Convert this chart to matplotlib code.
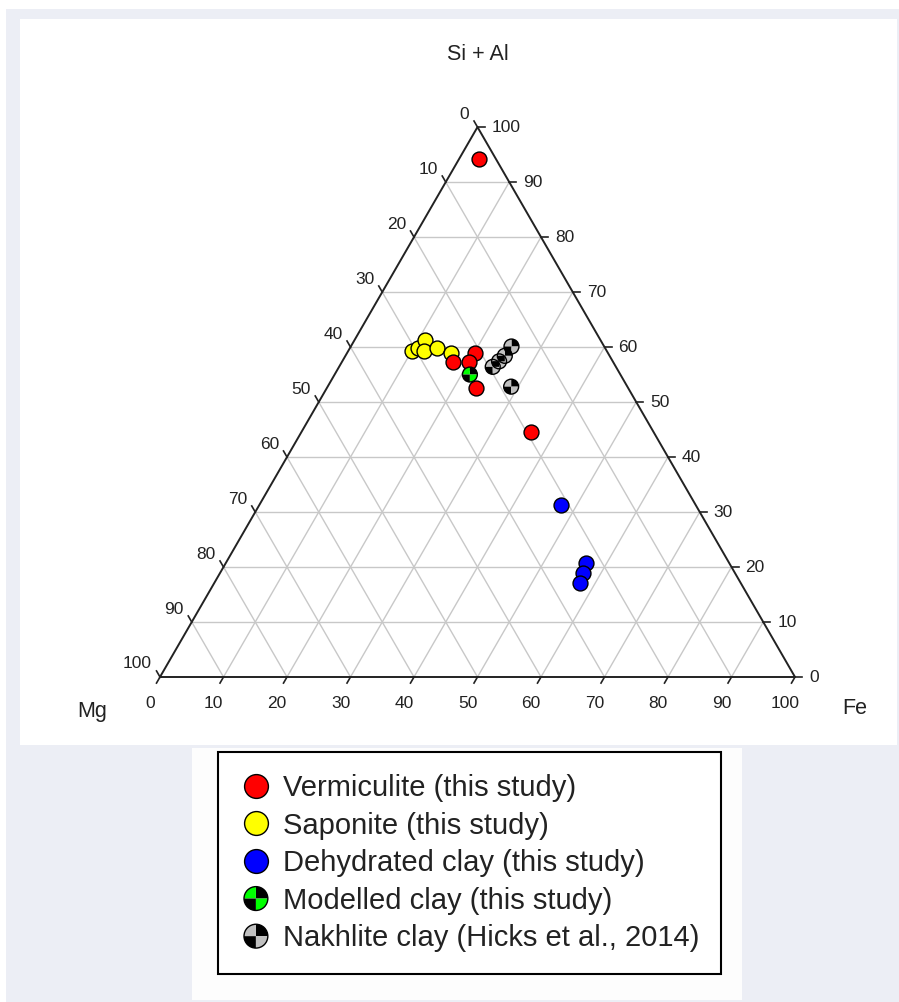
import numpy as np
import matplotlib.pyplot as plt
from matplotlib.path import Path
from matplotlib.patches import Rectangle
from matplotlib.legend_handler import HandlerTuple

plt.rcParams['font.family'] = ['Liberation Sans', 'DejaVu Sans']

# Compositions in % : Mg, Si + Al, Fe
verm_mg = [2.7, 20.9, 25.3, 22.7, 23.9, 19.3]
verm_si = [94.2, 59.0, 57.2, 57.2, 52.6, 44.5]
verm_fe = [3.1, 20.1, 17.5, 20.1, 23.5, 36.2]

sap_mg = [30.7, 29.4, 27.7, 28.7, 26.5, 24.7]
sap_si = [59.3, 59.9, 61.2, 59.3, 59.9, 59.0]
sap_fe = [10.0, 10.7, 11.1, 12.0, 13.6, 16.3]

dehyd_mg = [21.3, 22.6, 23.9, 25.3]
dehyd_si = [31.2, 20.7, 18.9, 17.1]
dehyd_fe = [47.5, 56.7, 57.2, 57.6]

model_mg = [23.7]
model_si = [55.0]
model_fe = [21.3]

nakh_mg = [14.6, 16.5, 17.9, 19.4, 18.3]
nakh_si = [60.1, 58.4, 57.4, 56.4, 52.8]
nakh_fe = [25.3, 25.1, 24.7, 24.2, 28.9]

ticks = np.arange(0, 101, 10)
H = np.sqrt(3) / 2


def tern_xy(mg, si, fe):
    mg, si, fe = np.asarray(mg, float), np.asarray(si, float), np.asarray(fe, float)
    tot = mg + si + fe
    return fe / tot + si / tot / 2, si / tot * H


W, HPX = 899, 1002
fig = plt.figure(figsize=(W / 100, HPX / 100), dpi=100, facecolor='#eceef5')

# white panels behind the plot and the key
for x0, y0, x1, y1, fc in [(0, 0, W, 9, 'white'), (0, 0, 6, HPX, 'white'),
                           (20, 19, 897, 745, 'white'), (192, 748, 742, 1000, '#fdfdfd')]:
    fig.patches.append(Rectangle((x0 / W, 1 - y1 / HPX), (x1 - x0) / W, (y1 - y0) / HPX,
                                 transform=fig.transFigure, facecolor=fc,
                                 edgecolor='none', zorder=-1))

# triangle side = 635 px, bottom-left corner at (160, 677)
side = 635.0
px = 1 / side
ax = fig.add_axes([0, 0, 1, 1])
ax.set_xlim(-160 / side, (W - 160) / side)
ax.set_ylim(-(HPX - 677) / side, 677 / side)
ax.axis('off')

# grid lines
for t in ticks[1:-1] / 100:
    ax.plot([t / 2, 1 - t / 2], [t * H, t * H], color='#c8c8c8', lw=1, zorder=1)      # Si+Al
    ax.plot([t, t + (1 - t) / 2], [0, (1 - t) * H], color='#c8c8c8', lw=1, zorder=1)  # Fe
    ax.plot([(1 - t) / 2, 1 - t], [(1 - t) * H, 0], color='#c8c8c8', lw=1, zorder=1)  # Mg

# outline
ax.plot([0, 1, 0.5, 0], [0, 0, H, 0], color='#222222', lw=1.4, zorder=2)

tl = 7 * px
lab_kw = dict(fontsize=12.5, color='#222222')
for v in ticks:
    t = v / 100
    # bottom axis (Fe)
    x, y = t, 0
    ax.plot([x, x - tl * 0.5], [y, y - tl * H], color='#222222', lw=1.2)
    ax.text(x - 10 * px, y - 26 * px, f'{v}', ha='center', va='center', **lab_kw)
    # right axis (Si + Al)
    x, y = 1 - t / 2, t * H
    ax.plot([x, x + tl], [y, y], color='#222222', lw=1.2)
    ax.text(x + 14 * px, y, f'{v}', ha='left', va='center', **lab_kw)
    # left axis (Mg)
    x, y = (1 - t) / 2, (1 - t) * H
    ax.plot([x, x - tl * 0.5], [y, y + tl * H], color='#222222', lw=1.2)
    ax.text(x - 8 * px, y + 13 * px, f'{v}', ha='right', va='center', **lab_kw)

ax.text(0.5, (677 - 55) * px, 'Si + Al', ha='center', va='center', fontsize=15.5, color='#222222')
ax.text(-68 * px, -35 * px, 'Mg', ha='center', va='center', fontsize=15.5, color='#222222')
ax.text(1 + 60 * px, -31 * px, 'Fe', ha='center', va='center', fontsize=15.5, color='#222222')

S = 115
edge = dict(edgecolor='black', linewidths=1.0)


def quartered(mg, si, fe, color, z):
    x, y = tern_xy(mg, si, fe)
    parts = []
    for (a0, a1), fc in zip([(0, 90), (90, 180), (180, 270), (270, 360)],
                            ['black', color, 'black', color]):
        parts.append(ax.scatter(x, y, s=S, marker=Path.wedge(a0, a1), facecolor=fc,
                                edgecolor='none', zorder=z))
    parts.append(ax.scatter(x, y, s=S, marker='o', facecolor='none', zorder=z + 0.1, **edge))
    return tuple(parts)


h_sap = ax.scatter(*tern_xy(sap_mg, sap_si, sap_fe), s=S, color='#ffff00', zorder=3, **edge)
h_verm = ax.scatter(*tern_xy(verm_mg, verm_si, verm_fe), s=S, color='#ff0000', zorder=4, **edge)
h_dehyd = ax.scatter(*tern_xy(dehyd_mg, dehyd_si, dehyd_fe), s=S, color='#0000ff', zorder=4, **edge)
h_model = quartered(model_mg, model_si, model_fe, '#00ff00', 5)
h_nakh = quartered(nakh_mg, nakh_si, nakh_fe, '#c0c0c0', 6)

for h in [h_sap, h_verm, h_dehyd]:
    h.set_edgecolor('black')

leg = fig.legend([h_verm, h_sap, h_dehyd, h_model, h_nakh],
                 ['Vermiculite (this study)', 'Saponite (this study)',
                  'Dehydrated clay (this study)', 'Modelled clay (this study)',
                  'Nakhlite clay (Hicks et al., 2014)'],
                 handler_map={tuple: HandlerTuple(ndivide=1)},
                 loc='upper left', bbox_to_anchor=(218 / W, 1 - 752 / HPX),
                 borderaxespad=0, fontsize=21, markerscale=1.6, scatterpoints=1,
                 scatteryoffsets=[0.5], handlelength=1.1, handletextpad=0.38,
                 borderpad=0.75, labelspacing=0.33, fancybox=False, framealpha=1)
leg.get_frame().set_edgecolor('black')
leg.get_frame().set_linewidth(1.5)
for txt in leg.get_texts():
    txt.set_color('#222222')

fig.savefig('out.png', dpi=100, facecolor=fig.get_facecolor())
